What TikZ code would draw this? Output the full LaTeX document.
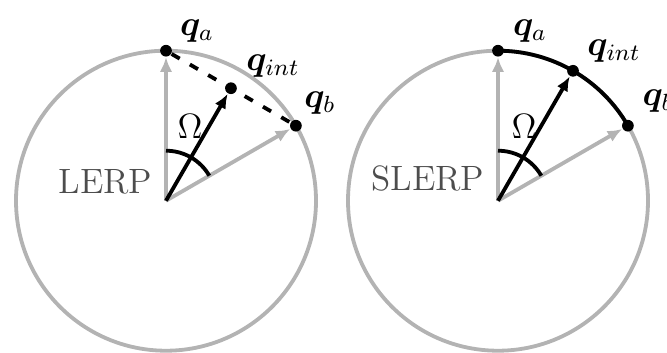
\documentclass[tikz,border=0pt]{standalone}
\usepackage{amsmath, amssymb}
\usepackage{bm}
\usepackage{tikz}
\usetikzlibrary{arrows.meta, calc}
\definecolor{cAxis} {HTML}{B3B3B3}
\definecolor{cLabel}{HTML}{4D4D4D}

\begin{document}
\begin{tikzpicture}[x=0.012cm, y=0.012cm,
    qdot/.style={circle, fill=black, inner sep=0pt, minimum size=4pt},
    qlabel/.style={inner sep=0pt, font=\large},
    greyvec/.style={draw=cAxis, line width=1.3pt, -{Latex[length=5pt, width=4.2pt]}},
    blackvec/.style={draw=black, line width=1.3pt, -{Latex[length=5pt, width=4.2pt]}}]
  \clip (-166,-151.3) rectangle (501,200.7);

  % LERP
  \coordinate (lo) at (0,0);
  \draw[cAxis, line width=1.3pt] (lo) circle[radius=150];
  \node[qdot] (lqa) at (90:150) {};
  \node[qdot] (lqb) at (30:150) {};
  \node[qdot] (lqi) at ($(lqa)!0.5!(lqb)$) {};
  \draw[line width=1.3pt, dash pattern=on 3.2pt off 4pt] (lqa) -- (lqb);
  \draw[greyvec] (lo) -- (lqa);
  \draw[greyvec] (lo) -- (lqb);
  \draw[line width=1.3pt] ($(lo)+(90:50)$) arc[start angle=90, end angle=30, radius=50];
  \draw[blackvec] (lo) -- (lqi);
  \node[qlabel] (tlqa) at ($(lqa)+(31,20)$) {$\bm{q}_a$};
  \node[qlabel] (tlqi) at ($(lqi)+(42,22)$) {$\bm{q}_{int}$};
  \node[qlabel] (tlqb) at ($(lqb)+(24,23)$) {$\bm{q}_b$};
  \node[qlabel] (tlom) at ($(lo)+(24,74)$) {$\Omega$};
  \node[inner sep=0pt, font=\large, text=cLabel, anchor=east] (tlerp) at ($(lo)+(-13,19)$) {LERP};

  % SLERP
  \coordinate (ro) at (332,0);
  \draw[cAxis, line width=1.3pt] (ro) circle[radius=150];
  \coordinate (rqa0) at ($(ro)+(90:150)$);
  \draw[line width=1.3pt] (rqa0) arc[start angle=90, end angle=30, radius=150];
  \node[qdot] (rqa) at (rqa0) {};
  \node[qdot] (rqb) at ($(ro)+(30:150)$) {};
  \node[qdot] (rqi) at ($(ro)+(60:150)$) {};
  \draw[greyvec] (ro) -- (rqa);
  \draw[greyvec] (ro) -- (rqb);
  \draw[line width=1.3pt] ($(ro)+(90:50)$) arc[start angle=90, end angle=30, radius=50];
  \draw[blackvec] (ro) -- (rqi);
  \node[qlabel] (trqa) at ($(rqa)+(32,20)$) {$\bm{q}_a$};
  \node[qlabel] (trqi) at ($(rqi)+(41,20)$) {$\bm{q}_{int}$};
  \node[qlabel, anchor=west] (trqb) at ($(rqb)+(14,25)$) {$\bm{q}_b$};
  \node[qlabel] (trom) at ($(ro)+(26,74)$) {$\Omega$};
  \node[inner sep=0pt, font=\large, text=cLabel, anchor=east] (tslerp) at ($(ro)+(-13,22)$) {SLERP};
\end{tikzpicture}
\end{document}
